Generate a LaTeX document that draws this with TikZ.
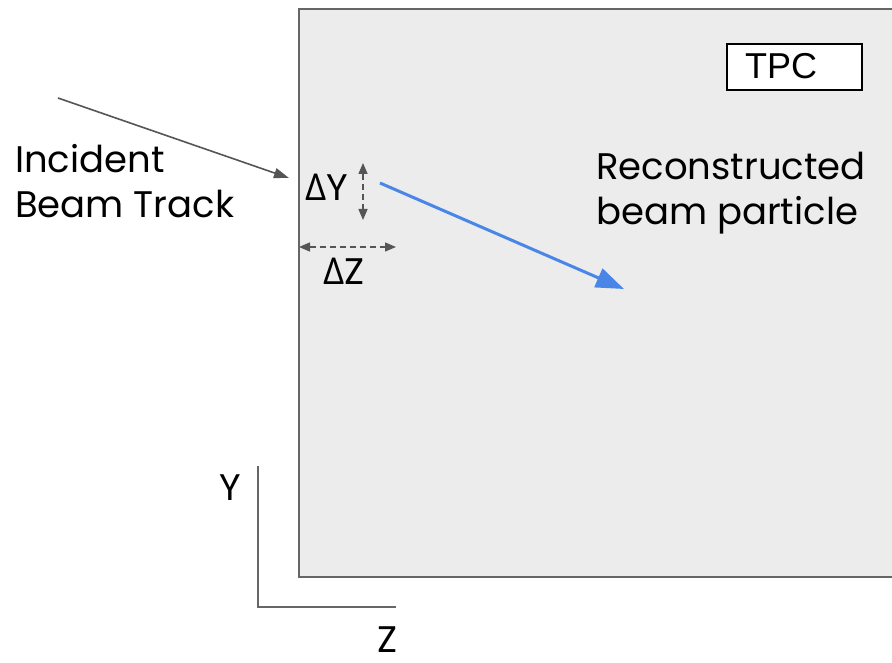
\documentclass[tikz,border=0pt]{standalone}
\usepackage{fontspec}
\setmainfont{Poppins}
\newfontfamily\arialf{Liberation Sans}
\newfontfamily\deltaf{Open Sans}
\usetikzlibrary{arrows.meta}
\definecolor{tpcfill}{HTML}{ECECEC}
\definecolor{edgegray}{HTML}{666666}
\definecolor{arrgray}{HTML}{555555}
\definecolor{beamblue}{HTML}{4A86E8}
\tikzset{
  lbl/.style={inner sep=0pt, font=\fontsize{37}{45}\selectfont, text=black},
  dimarrow/.style={draw=arrgray, line width=1.5pt, dash pattern=on 6pt off 4pt, {Triangle[length=11pt,width=9pt]}-{Triangle[length=11pt,width=9pt]}},
  axisline/.style={draw=edgegray, line width=2pt},
}
\begin{document}
\begin{tikzpicture}[x=1pt,y=1pt]
\useasboundingbox (0,0) rectangle (892,-663);
% TPC volume
\node[draw=edgegray, line width=2pt, fill=tpcfill, minimum width=620pt, minimum height=568pt, inner sep=0pt, anchor=north west] (tpc) at (298,-8) {};
\fill[white] (892,0) rectangle (920,-663);
\useasboundingbox (0,0) rectangle (892,-663);
% TPC label
\node[draw=black, line width=1.6pt, fill=white, minimum width=135pt, minimum height=46pt, inner sep=0pt, anchor=north west] (tpcbox) at (726,-43) {};
\node[inner sep=0pt, anchor=base west, font=\arialf\fontsize{36}{40}\selectfont] (tpclbl) at (745,-79) {TPC};
% incident beam
\coordinate (incs) at (58,-98);
\coordinate (ince) at (289,-178);
\draw[draw=arrgray, line width=1.6pt, -{Triangle[length=15pt,width=10pt]}] (incs) -- (ince);
\node[lbl, align=left, anchor=north west] (inclbl) at (15,-144) {Incident\\Beam Track};
% delta Y
\coordinate (dys) at (363,-163);
\coordinate (dye) at (363,-220);
\draw[dimarrow] (dys) -- (dye);
\node[lbl, anchor=base] (dylbl) at (327,-201) {{\deltaf Δ}Y};
% delta Z
\coordinate (dzs) at (299,-247);
\coordinate (dze) at (396,-247);
\draw[dimarrow] (dzs) -- (dze);
\node[lbl, anchor=base] (dzlbl) at (344,-285) {{\deltaf Δ}Z};
% reconstructed beam
\coordinate (rbs) at (380,-183);
\coordinate (rbe) at (624,-289);
\draw[draw=beamblue, line width=3pt, -{Triangle[length=28pt,width=20pt]}] (rbs) -- (rbe);
\node[lbl, align=left, anchor=north west] (reclbl) at (596,-152) {Reconstructed\\beam particle};
% axes
\coordinate (origin) at (258,-607);
\coordinate (ytop) at (258,-466);
\coordinate (zend) at (396,-607);
\draw[axisline] (ytop) -- (origin) -- (zend);
\node[lbl, anchor=base] (ylbl) at (230,-500) {Y};
\node[lbl, anchor=base] (zlbl) at (388,-652) {Z};
\end{tikzpicture}
\end{document}
